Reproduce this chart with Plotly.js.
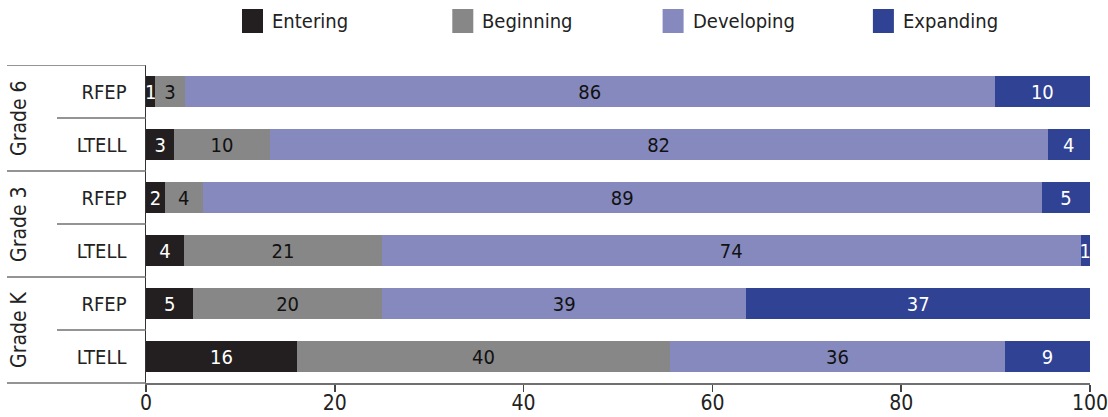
<!DOCTYPE html>
<html>
<head>
<meta charset="utf-8">
<script src="https://cdn.plot.ly/plotly-3.0.1.min.js"></script>
<style>html,body{margin:0;padding:0;background:#fff;}#chart{width:1108px;height:417px;}</style>
</head>
<body>
<div id="chart"></div>
<script>
// Rows (top to bottom)
const grades = ["Grade 6", "Grade 6", "Grade 3", "Grade 3", "Grade K", "Grade K"];
const groups = ["RFEP", "LTELL", "RFEP", "LTELL", "RFEP", "LTELL"];
const rowKeys = ["G6-RFEP", "G6-LTELL", "G3-RFEP", "G3-LTELL", "GK-RFEP", "GK-LTELL"];
const gradeNames = ["Grade 6", "Grade 3", "Grade K"];

// Bar widths (percent)
const entering   = [1, 3, 2, 4, 5, 16];
const beginning  = [3.1, 10.1, 4, 21, 20, 39.5];
const developing = [85.8, 82.4, 88.9, 74, 38.6, 35.5];
const expanding  = [10.1, 4.5, 5.1, 1, 36.4, 9];

// Printed labels
const enteringLbl   = [1, 3, 2, 4, 5, 16];
const beginningLbl  = [3, 10, 4, 21, 20, 40];
const developingLbl = [86, 82, 89, 74, 39, 36];
const expandingLbl  = [10, 4, 5, 1, 37, 9];

const xTicks = [0, 20, 40, 60, 80, 100];

const levels = ["Entering", "Beginning", "Developing", "Expanding"];
const colors = ["#231f20", "#878787", "#8589bd", "#2f4294"];
const textColors = ["#ffffff", "#111111", "#111111", "#ffffff"];
const values = [entering, beginning, developing, expanding];
const labels = [enteringLbl, beginningLbl, developingLbl, expandingLbl];

const FONT = '"DejaVu Sans Condensed", "Liberation Sans", sans-serif';

const traces = levels.map((name, i) => ({
  type: 'bar',
  orientation: 'h',
  name: name,
  y: rowKeys,
  x: values[i],
  text: labels[i].map(String),
  textposition: 'inside',
  insidetextanchor: 'middle',
  constraintext: 'none',
  textangle: 0,
  cliponaxis: false,
  insidetextfont: {family: FONT, size: 20, color: textColors[i]},
  marker: {color: colors[i], line: {width: 0}},
  hoverinfo: 'skip',
  showlegend: false
}));

// paper coordinate helpers (plot area: x 146..1090 px, y 65..383 px)
const L = 146, R = 18, T = 65, B = 34, W = 1108, H = 417;
const pw = W - L - R, ph = H - T - B;
const px = v => (v - L) / pw;
const py = v => (H - B - v) / ph;

const shapes = [];
const annotations = [];

// custom legend
levels.forEach((name, i) => {
  const x0 = 242 + i * 210.3;
  shapes.push({type: 'rect', xref: 'paper', yref: 'paper',
    x0: px(x0), x1: px(x0 + 21), y0: py(33), y1: py(9),
    fillcolor: colors[i], line: {width: 0}});
  annotations.push({xref: 'paper', yref: 'paper', x: px(x0 + 28), y: py(21.5),
    xanchor: 'left', yanchor: 'middle', showarrow: false, text: name,
    font: {family: FONT, size: 20, color: '#222'}});
});

// left-hand structure lines
const lineCol = '#707070';
shapes.push({type: 'line', xref: 'paper', yref: 'y', x0: px(7), x1: 0, y0: -0.5, y1: -0.5, line: {color: lineCol, width: 1.5}});
[1.5, 3.5].forEach(y => shapes.push({type: 'line', xref: 'paper', yref: 'y', x0: px(7), x1: 0, y0: y, y1: y, line: {color: lineCol, width: 1.5}}));
[0.5, 2.5, 4.5].forEach(y => shapes.push({type: 'line', xref: 'paper', yref: 'y', x0: px(57), x1: 0, y0: y, y1: y, line: {color: lineCol, width: 1.5}}));
// x-axis line extension to the left
shapes.push({type: 'line', xref: 'paper', yref: 'paper', x0: px(7), x1: 0, y0: 0, y1: 0, line: {color: lineCol, width: 1.5}});

// grade labels
gradeNames.forEach((g, i) => {
  annotations.push({xref: 'paper', yref: 'y', x: px(19), y: i * 2 + 0.5,
    xanchor: 'center', yanchor: 'middle', textangle: -90, showarrow: false, text: g,
    font: {family: FONT, size: 21, color: '#222'}});
});

const layout = {
  width: W, height: H,
  margin: {l: L, r: R, t: T, b: B, pad: 0},
  paper_bgcolor: '#fff', plot_bgcolor: '#fff',
  barmode: 'stack',
  bargap: 0.433,
  showlegend: false,
  font: {family: FONT, color: '#222'},
  xaxis: {
    range: [0, 100], tickvals: xTicks, ticktext: xTicks.map(String),
    showgrid: false, zeroline: false,
    showline: true, linecolor: lineCol, linewidth: 1.5,
    ticks: 'outside', ticklen: 7, tickwidth: 1.5, tickcolor: '#444',
    ticklabelstandoff: -7,
    ticklabeloverflow: 'allow',
    tickfont: {family: FONT, size: 21, color: '#222'},
    fixedrange: true
  },
  yaxis: {
    type: 'category', range: [5.5, -0.5],
    tickmode: 'array', tickvals: rowKeys, ticktext: groups,
    showgrid: false, zeroline: false,
    showline: true, linecolor: '#333', linewidth: 1.5,
    ticks: '', ticklabelstandoff: 14,
    tickfont: {family: FONT, size: 20, color: '#222'},
    fixedrange: true
  },
  shapes: shapes,
  annotations: annotations
};

Plotly.newPlot('chart', traces, layout, {displayModeBar: false, staticPlot: true});
</script>
</body>
</html>
